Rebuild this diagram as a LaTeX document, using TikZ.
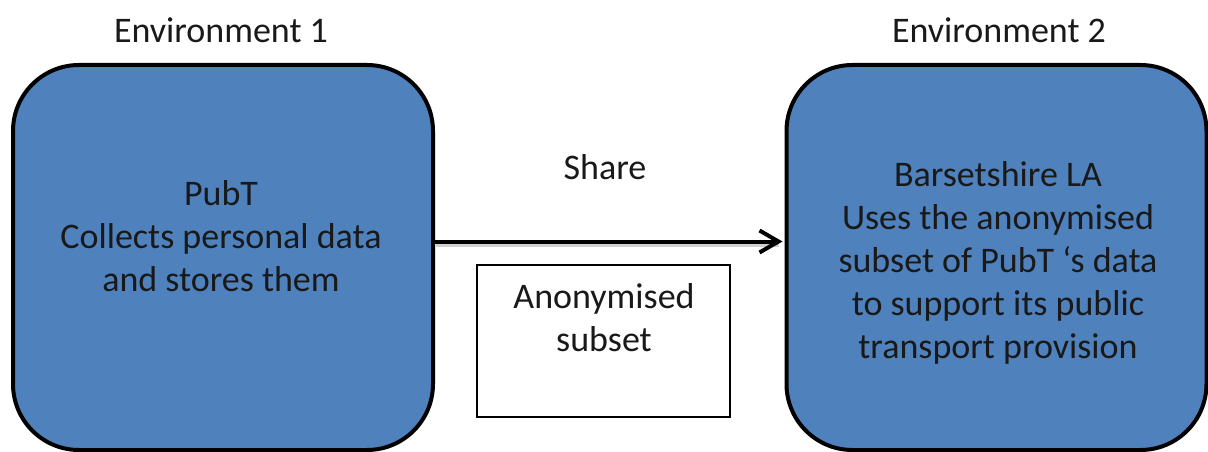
\documentclass[tikz,border=0pt]{standalone}
\usepackage{fontspec}
\setmainfont{Carlito}
\usetikzlibrary{arrows.meta,calc}
\definecolor{envblue}{RGB}{79,129,189}
\begin{document}
\begin{tikzpicture}[x=1pt,y=-1pt,
  envbox/.style={draw=black,fill=envblue,line width=4pt,rounded corners=66pt,
    minimum width=420pt,minimum height=385pt,inner sep=0pt},
  txt/.style={align=center,font=\fontsize{36}{43}\selectfont,inner sep=0pt,text=black!90},
  subsetbox/.style={draw=black,line width=1.8pt,fill=white,
    minimum width=253pt,minimum height=152pt,inner sep=0pt},
  flow/.style={line width=4pt,-{Straight Barb[length=19pt,width=22pt]}}]
\useasboundingbox (0,0) rectangle (1208,452);
\fill[white] (0,0) rectangle (1208,452);

% environments
\node[envbox] (envA) at (223,257.5) {};
\node[envbox] (envB) at (996.5,257.5) {};

\node[txt] (titleA) at (221,30) {Environment 1};
\node[txt] (titleB) at (999,30) {Environment 2};

\node[txt] (pubt) at (221,236) {PubT\\Collects personal data\\and stores them};
\node[txt] (la) at (998,263) {Barsetshire LA\\Uses the anonymised\\subset of PubT ‘s data\\to support its public\\transport provision};

% shared data flow
\coordinate (from) at ($(envA.east)+(0,-16)$);
\coordinate (to) at ($(envB.west)+(-2,-16)$);
\draw[line width=4pt,black!18] ($(from)+(1,3)$) -- ($(to)+(-4,3)$);
\draw[flow] (from) -- (to);
\node[txt] (share) at (605,167) {Share};

\node[subsetbox] (subset) at (603.5,341) {};
\node[txt] (subsettxt) at (604,318) {Anonymised\\subset};
\end{tikzpicture}
\end{document}
